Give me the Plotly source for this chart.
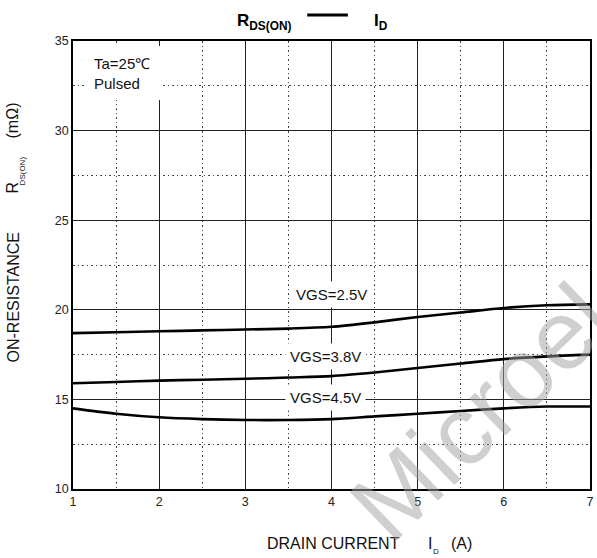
import plotly.graph_objects as go

# ---- data ----
drain_current = [1, 1.5, 2, 2.5, 3, 3.5, 4, 4.5, 5, 5.5, 6, 6.5, 7]
r_vgs_2_5 = [18.7, 18.75, 18.8, 18.85, 18.9, 18.95, 19.05, 19.3, 19.6, 19.85, 20.1, 20.25, 20.3]
r_vgs_3_8 = [15.9, 15.97, 16.05, 16.1, 16.15, 16.22, 16.3, 16.5, 16.75, 17.0, 17.25, 17.4, 17.5]
r_vgs_4_5 = [14.5, 14.2, 14.0, 13.9, 13.85, 13.85, 13.9, 14.05, 14.2, 14.35, 14.5, 14.6, 14.6]
series_names = ["VGS=2.5V", "VGS=3.8V", "VGS=4.5V"]
x_ticks = [1, 2, 3, 4, 5, 6, 7]
y_ticks = [10, 15, 20, 25, 30, 35]

W, H = 597, 558
ML, MR, MT, MB = 73, 3, 41, 69
PW, PH = W - ML - MR, H - MT - MB


def px(x):
    return (x - ML) / PW


def py(y):
    return (H - MB - y) / PH


FONT = "Liberation Sans, Arial, sans-serif"

fig = go.Figure()
for name, vals in zip(series_names, [r_vgs_2_5, r_vgs_3_8, r_vgs_4_5]):
    fig.add_trace(go.Scatter(x=drain_current, y=vals, mode="lines", name=name,
                             line=dict(color="black", width=2.6, shape="spline", smoothing=0.8),
                             showlegend=False, hoverinfo="skip"))

axis_common = dict(showline=True, mirror=True, linecolor="black", linewidth=1.5,
                   showgrid=True, gridcolor="#222", gridwidth=1.1,
                   ticks="", zeroline=False,
                   tickfont=dict(family=FONT, size=12.5, color="#222"),
                   minor=dict(showgrid=True, gridcolor="#444", gridwidth=1.2, griddash="1.5px,3px"))

fig.update_xaxes(range=[1, 7], tickvals=x_ticks, **axis_common)
fig.update_xaxes(minor=dict(dtick=0.5, tick0=1))
fig.update_yaxes(range=[10, 35], tickvals=y_ticks, **axis_common)
fig.update_yaxes(minor=dict(dtick=2.5, tick0=10))

shapes = []
# white box behind top-left note
shapes.append(dict(type="rect", xref="paper", yref="paper", x0=px(85), x1=px(163), y0=py(100), y1=py(46),
                   fillcolor="white", line=dict(width=0), layer="above"))
# title dash
shapes.append(dict(type="line", xref="paper", yref="paper", x0=px(309), x1=px(350), y0=py(15), y1=py(15),
                   line=dict(color="black", width=2.8), layer="above"))
fig.update_layout(shapes=shapes)

ann = []
lab_font = dict(family=FONT, size=15, color="#111")
# VGS labels with white boxes
for text, cx, cy in [("VGS=2.5V", 333, 294), ("VGS=3.8V", 327, 356), ("VGS=4.5V", 327, 397)]:
    ann.append(dict(text=text, x=px(cx), y=py(cy), xref="paper", yref="paper", showarrow=False,
                    xanchor="center", yanchor="middle", font=lab_font, bgcolor="white", borderpad=4))
# note
ann.append(dict(text="Ta=25℃", x=px(92), y=py(63), xref="paper", yref="paper", showarrow=False,
                xanchor="left", yanchor="middle", font=lab_font))
ann.append(dict(text="Pulsed", x=px(92), y=py(83), xref="paper", yref="paper", showarrow=False,
                xanchor="left", yanchor="middle", font=lab_font))
# title
tfont = dict(family=FONT, size=17, color="black")
ann.append(dict(text="<b>R<sub>DS(ON)</sub></b>", x=px(236), y=py(22), xref="paper", yref="paper",
                showarrow=False, xanchor="left", yanchor="middle", font=tfont))
ann.append(dict(text="<b>I<sub>D</sub></b>", x=px(374), y=py(22), xref="paper", yref="paper",
                showarrow=False, xanchor="left", yanchor="middle", font=tfont))
# x title
xfont = dict(family=FONT, size=16, color="#111")
sfont = dict(family=FONT, size=8, color="#111")
ann.append(dict(text="DRAIN CURRENT", x=px(405), y=py(543), xref="paper", yref="paper",
                showarrow=False, xanchor="right", yanchor="middle", font=xfont))
ann.append(dict(text="I", x=px(429), y=py(543), xref="paper", yref="paper",
                showarrow=False, xanchor="left", yanchor="middle", font=xfont))
ann.append(dict(text="D", x=px(434), y=py(551), xref="paper", yref="paper",
                showarrow=False, xanchor="left", yanchor="middle", font=sfont))
ann.append(dict(text="(A)", x=px(452), y=py(543), xref="paper", yref="paper",
                showarrow=False, xanchor="left", yanchor="middle", font=xfont))
# y title
ann.append(dict(text="ON-RESISTANCE", x=px(13), y=py(297), xref="paper", yref="paper", textangle=-90,
                showarrow=False, xanchor="center", yanchor="middle", font=xfont))
ann.append(dict(text="R", x=px(13), y=py(187), xref="paper", yref="paper", textangle=-90,
                showarrow=False, xanchor="center", yanchor="middle", font=xfont))
ann.append(dict(text="DS(ON)", x=px(22), y=py(171), xref="paper", yref="paper", textangle=-90,
                showarrow=False, xanchor="center", yanchor="middle", font=sfont))
ann.append(dict(text="(mΩ)", x=px(12), y=py(120), xref="paper", yref="paper", textangle=-90,
                showarrow=False, xanchor="center", yanchor="middle", font=xfont))
# watermark
ann.append(dict(text="Microel", x=px(484), y=py(412), xref="paper", yref="paper", textangle=-44,
                showarrow=False, xanchor="center", yanchor="middle",
                font=dict(family=FONT, size=98, color="rgba(160,160,160,0.5)")))
fig.update_layout(annotations=ann)

fig.update_layout(width=W, height=H, margin=dict(l=ML, r=MR, t=MT, b=MB),
                  paper_bgcolor="white", plot_bgcolor="white", showlegend=False)

fig.write_html("out.html")
